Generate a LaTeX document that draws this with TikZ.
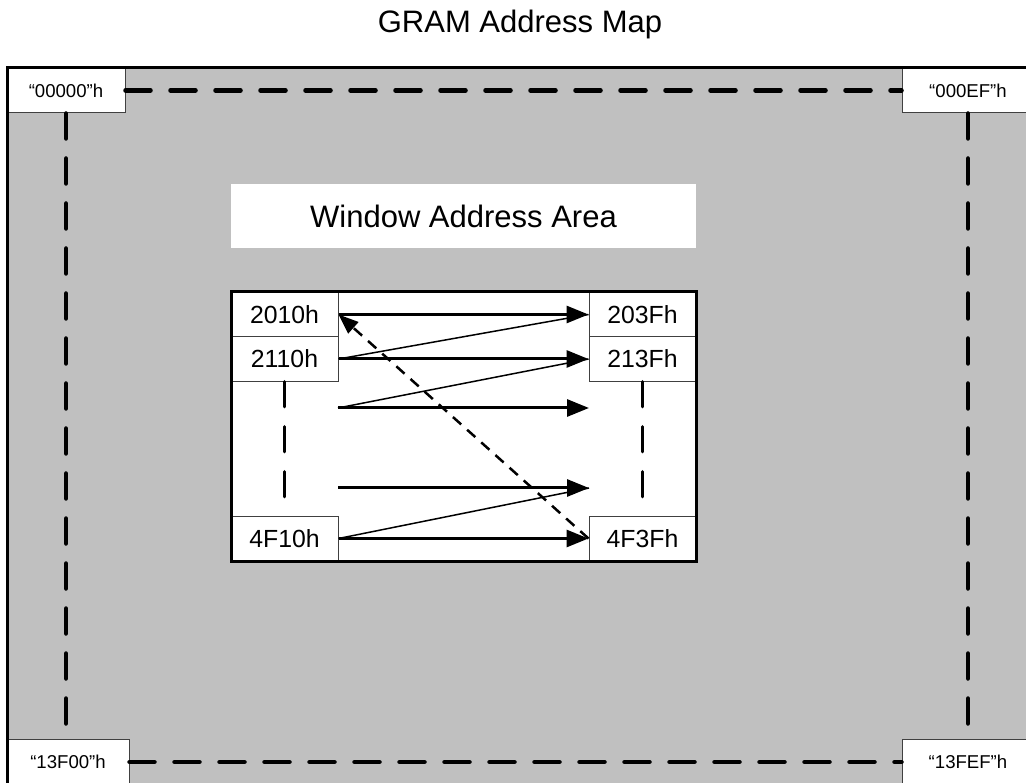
\documentclass[tikz,border=0pt]{standalone}
\usepackage{fontspec}
\setmainfont{Liberation Sans}
\usepackage{xcolor}
\usetikzlibrary{arrows.meta}
\definecolor{gramGray}{HTML}{C0C0C0}
\definecolor{boxLine}{HTML}{404040}

\begin{document}
\begin{tikzpicture}[x=1pt, y=-1pt,
    corner/.style={draw=boxLine, line width=1pt, fill=white, minimum height=45pt,
        inner sep=0pt, font=\fontsize{18.6}{22}\selectfont},
    addr/.style={draw=boxLine, line width=1pt, fill=white, minimum width=107pt,
        minimum height=44.5pt, inner sep=0pt, font=\fontsize{24.8}{29}\selectfont},
    bigdash/.style={line width=4.5pt, line cap=round, dash pattern=on 25pt off 20pt},
    rowarrow/.style={line width=3pt, -{Triangle[length=22pt,width=17pt]}},
    back/.style={line width=1.5pt},
    jump/.style={line width=2.5pt, dash pattern=on 11pt off 8pt,
        -{Triangle[length=20pt,width=15pt]}}]
    \clip (0,0) rectangle (1026,783);
    \node[font=\fontsize{31}{37}\selectfont, anchor=base] (title) at (520,33) {GRAM Address Map};
    % whole GRAM
    \fill[gramGray] (7,68) rectangle (1040,800);
    \node[corner, minimum width=118pt] (c00000) at (66,90.5) {“00000”h};
    \node[corner, minimum width=132pt] (c000EF) at (968,90.5) {“000EF”h};
    \node[corner, minimum width=122pt, minimum height=46pt] (c13F00) at (68,762) {“13F00”h};
    \node[corner, minimum width=132pt, minimum height=46pt] (c13FEF) at (968,762) {“13FEF”h};
    \draw[line width=3pt] (7,800) -- (7,68) -- (1040,68);
    \draw[bigdash] (c00000) -- (c000EF);
    \draw[bigdash] (c13F00) -- (c13FEF);
    \draw[bigdash] (c00000.south) -- (c00000.south |- c13F00.north);
    \draw[bigdash] (c000EF.south) -- (c13FEF.north);
    % window area
    \node[fill=white, minimum width=465pt, minimum height=64pt,
        font=\fontsize{31}{37}\selectfont] (wlabel) at (463.5,216) {Window Address Area};
    \fill[white] (231,292) rectangle (696,561);
    \node[addr] (a2010) at (284.5,314.5) {2010h};
    \node[addr] (a2110) at (284.5,359) {2110h};
    \node[addr] (a4F10) at (284.5,538.5) {4F10h};
    \node[addr] (a203F) at (642.5,314.5) {203Fh};
    \node[addr] (a213F) at (642.5,359) {213Fh};
    \node[addr] (a4F3F) at (642.5,538.5) {4F3Fh};
    \draw[line width=3pt] (231,292) rectangle (696,561);
    \coordinate (l3) at (338,408);
    \coordinate (r3) at (589,408);
    \coordinate (l4) at (338,488);
    \coordinate (r4) at (589,488);
    \draw[bigdash, line width=3.5pt] (a2110.south) -- (a2110.south |- a4F10.north);
    \draw[bigdash, line width=3.5pt] (a213F.south) -- (a213F.south |- a4F3F.north);
    \foreach \a/\b in {a2010.east/a203F.west, a2110.east/a213F.west, l3/r3, l4/r4,
        a4F10.east/a4F3F.west}
        \draw[rowarrow] (\a) -- (\b);
    \foreach \a/\b in {a2110.east/a203F.west, l3/a213F.west, a4F10.east/r4}
        \draw[back] (\a) -- (\b);
    \draw[jump] (a4F3F.west) -- (a2010.east);
\end{tikzpicture}
\end{document}
